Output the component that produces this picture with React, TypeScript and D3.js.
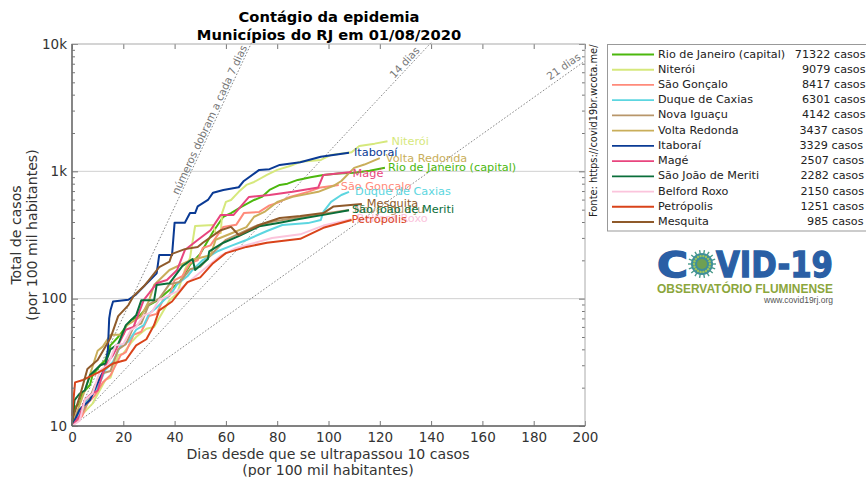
import React, { useEffect, useRef } from 'react';
import * as d3 from 'd3';

const names = ['Rio de Janeiro (capital)', 'Niterói', 'São Gonçalo', 'Duque de Caxias', 'Nova Iguaçu', 'Volta Redonda', 'Itaboraí', 'Magé', 'São João de Meriti', 'Belford Roxo', 'Petrópolis', 'Mesquita'];
const totals = [71322, 9079, 8417, 6301, 4142, 3437, 3329, 2507, 2282, 2150, 1251, 985];
const colors = ['#4cb80e', '#d6e87c', '#ff8a7a', '#5cd6e0', '#b8966a', '#c9ae5a', '#0a3a94', '#e8457e', '#0a6e3a', '#fbc4dc', '#d9431a', '#8f5a2a'];

const rioDays = [0, 1, 3, 4, 7, 8, 11, 13, 15, 18, 23, 26, 30, 33, 38, 42, 46, 50, 55, 59, 62, 66, 71, 74, 77, 81, 84, 88, 93, 98, 104, 110, 116, 122];
const rioVals = [10, 14, 15, 18, 21, 25, 30, 33, 43, 50, 68, 72, 89, 96, 117, 135, 184, 225, 335, 440, 470, 525, 596, 630, 714, 782, 800, 856, 900, 937, 960, 975, 1010, 1065];
const niteroiDays = [0, 5, 8, 13, 15, 18, 20, 23, 25, 29, 32, 38, 41, 44, 46, 48, 55, 56, 58, 58.5, 60, 62, 65, 68, 71, 76, 80, 85, 89, 97, 101, 109, 112, 118, 123];
const niteroiVals = [10.5, 13, 15, 23, 24, 36, 37, 45, 50, 58, 60, 97, 110, 168, 209, 372, 379, 328, 328, 470, 575, 596, 690, 782, 825, 937, 1026, 1100, 1190, 1230, 1346, 1410, 1580, 1650, 1720];
const goncaloDays = [0, 4, 6, 9, 12, 15, 19, 21, 24, 27, 30, 33, 35.5, 38, 40, 43, 46, 49, 51, 54, 56, 59, 64, 67, 73, 77, 80, 85, 92, 97, 104];
const goncaloVals = [10, 12, 15, 17.5, 22, 25, 36, 38, 52, 55, 73, 76, 98, 105, 140, 150, 190, 200, 250, 262, 300, 366, 380, 470, 480, 540, 565, 630, 690, 748, 782];
const duqueDays = [0, 3, 7, 10, 13, 16, 19, 22, 25, 28, 30, 33, 36, 39, 41, 45, 47, 51, 57, 62, 68, 76, 82, 92, 97, 98, 101, 105, 108];
const duqueVals = [10, 13, 17.5, 20, 27.5, 32, 43, 46, 57, 62, 76, 85, 98, 112, 130, 150, 168, 201, 237, 260, 289, 340, 379, 392, 415, 480, 575, 652, 690];
const iguacuDays = [0, 3, 6, 9, 12, 15, 18, 21, 24, 27, 30, 34, 38, 42, 46, 50, 55, 60, 66, 72, 79, 90, 100, 108];
const iguacuVals = [10, 12, 15, 21, 26, 27, 40, 44, 60, 64, 90, 100, 130, 135, 170, 178, 230, 290, 330, 375, 405, 440, 470, 497];
const voltaDays = [0, 5, 10, 12, 15, 20, 21, 27, 30, 32, 38, 46, 54, 56, 62, 68, 71, 75, 80, 86, 96, 102, 105, 110, 114, 120];
const voltaVals = [10, 19, 39, 42, 52, 52, 61, 73, 96, 128, 168, 200, 219, 290, 325, 365, 440, 480, 575, 630, 690, 770, 840, 1065, 1130, 1270];
const itaboraiDays = [0, 3, 7, 11, 13, 14, 14.5, 15, 16, 22, 25, 33, 34, 39, 40, 44, 46, 48, 49, 53, 55, 59, 65, 67, 73, 77, 81, 89, 97, 108];
const itaboraiVals = [10, 13.5, 16, 24, 29, 40, 70, 81, 95, 98, 108, 158, 220, 220, 395, 395, 470, 470, 530, 596, 680, 714, 750, 840, 1026, 1040, 1123, 1180, 1300, 1400];
const mageDays = [0, 3, 5, 7, 10, 13, 16, 21, 24, 28, 30, 33, 37, 41, 44, 49, 54, 58, 63, 69, 77, 86, 96, 98, 109];
const mageVals = [10, 12, 16, 17.5, 19, 30, 36, 57, 60, 98, 110, 132, 140, 168, 241, 289, 345, 455, 455, 630, 652, 690, 748, 937, 990];
const meritiDays = [0, 1, 3, 5, 7, 11, 13, 15, 18, 21, 25, 27, 32, 33, 38, 43, 47, 48, 53, 53.5, 59, 65, 73, 81, 88, 98, 108];
const meritiVals = [10, 16, 18, 19, 25, 30, 31, 40, 44, 62, 74, 97, 97, 128, 132, 180, 205, 168, 205, 235, 275, 310, 370, 395, 420, 455, 495];
const belfordDays = [0, 3, 5, 8, 11, 14, 17, 20, 23, 25, 28, 31, 34, 41, 49, 58, 64, 78, 89, 98, 109];
const belfordVals = [10, 11, 16, 18, 27.5, 30, 43, 44, 57, 60, 74, 78, 98, 114, 155, 218, 250, 300, 320, 375, 420];
const petropolisDays = [0, 1.2, 4.3, 8, 12, 16, 21, 25, 29, 32, 34, 39, 45, 50, 55, 60, 68, 76, 89, 98, 109];
const petropolisVals = [12, 22, 23, 25, 27.5, 31, 33, 43, 48, 62, 81, 95, 135, 147, 190, 228, 255, 275, 295, 360, 415];
const mesquitaDays = [0, 3, 6, 10, 15, 18, 22, 24, 28, 30, 34, 38, 39, 44, 49, 51, 58, 62, 65, 73, 81, 89, 98, 102, 113];
const mesquitaVals = [11, 17, 28, 33, 49, 73, 89, 105, 125, 140, 177, 195, 225, 245, 255, 275, 345, 366, 316, 379, 430, 445, 470, 530, 555];

const seriesDays = [rioDays, niteroiDays, goncaloDays, duqueDays, iguacuDays, voltaDays, itaboraiDays, mageDays, meritiDays, belfordDays, petropolisDays, mesquitaDays];
const seriesVals = [rioVals, niteroiVals, goncaloVals, duqueVals, iguacuVals, voltaVals, itaboraiVals, mageVals, meritiVals, belfordVals, petropolisVals, mesquitaVals];

const doublingDays = [7, 14, 21];
const xTicks = [0, 20, 40, 60, 80, 100, 120, 140, 160, 180, 200];
const yTicks = [10, 100, 1000, 10000];
const yTickLabels = ['10', '100', '1k', '10k'];

const FONT = '"DejaVu Sans", sans-serif';
const margin = { top: 44, left: 72, right: 585, bottom: 426 };

const App: React.FC = () => {
  const svgRef = useRef<SVGSVGElement | null>(null);

  useEffect(() => {
    const svg = d3.select(svgRef.current);
    svg.selectAll('*').remove();

    const xScale = d3.scaleLinear().domain([0, 200]).range([margin.left, margin.right]);
    const yScale = d3.scaleLog().domain([10, 10000]).range([margin.bottom, margin.top]);
    const plotH = margin.bottom - margin.top;
    const plotW = margin.right - margin.left;

    // grid
    svg.append('g').selectAll('line').data([100, 1000]).enter().append('line')
      .attr('x1', margin.left).attr('x2', margin.right)
      .attr('y1', (d) => yScale(d)).attr('y2', (d) => yScale(d))
      .attr('stroke', '#d0d0d0').attr('stroke-width', 1);

    // guides, one per doubling time
    const guide = (n: number) => {
      const end = Math.min(200, n * Math.log2(1000));
      return d3.line<number>().x((d) => xScale(d)).y((d) => yScale(10 * Math.pow(2, d / n)))(d3.range(0, end + 0.5, 1).concat([end]));
    };
    svg.append('g').selectAll('path').data(doublingDays).enter().append('path')
      .attr('d', (d) => guide(d))
      .attr('fill', 'none').attr('stroke', '#777').attr('stroke-width', 0.9).attr('stroke-dasharray', '1.6,1.8');

    const guideText = (t: string, x: number, y: number, a: number) =>
      svg.append('text').attr('transform', `translate(${x},${y}) rotate(${a})`)
        .attr('text-anchor', 'middle').attr('dominant-baseline', 'middle')
        .attr('font-family', FONT).attr('font-size', 10.5).attr('fill', '#777').text(t);
    guideText('números dobram a cada 7 dias', 210, 120, -65);
    guideText('14 dias', 405, 63, -47);
    guideText('21 dias', 564, 67, -35);

    // series
    const line = d3.line<[number, number]>().x((d) => xScale(d[0])).y((d) => yScale(d[1]));
    names.forEach((name, i) => {
      const pts = seriesDays[i].map((d, j) => [d, seriesVals[i][j]] as [number, number]);
      svg.append('path').datum(pts).attr('d', line)
        .attr('fill', 'none').attr('stroke', colors[i]).attr('stroke-width', 2)
        .attr('stroke-linejoin', 'round');
    });

    // end labels
    const labelDx = [3, 4, 2, 6, 5, 6, 5, 1, 3, 5, 0, 5];
    const labelDy = [0, 1, 2, 0, 0, 1, 0, 2, 0, 0, 0, 0];
    names.forEach((name, i) => {
      const n = seriesDays[i].length - 1;
      svg.append('text')
        .attr('x', xScale(seriesDays[i][n]) + labelDx[i])
        .attr('y', yScale(seriesVals[i][n]) + labelDy[i])
        .attr('dominant-baseline', 'middle')
        .attr('font-family', FONT).attr('font-size', 11.3)
        .attr('fill', colors[i]).text(name);
    });

    // axes
    const styleAxis = (g: d3.Selection<SVGGElement, unknown, null, undefined>) => {
      g.select('.domain').remove();
      g.selectAll('line').attr('stroke', '#777');
      g.selectAll('text').attr('font-family', FONT).attr('font-size', 13.5).attr('fill', '#333');
    };
    const minorTicks = d3.range(1, 4).flatMap((e) => d3.range(2, 10).map((m) => m * Math.pow(10, e)));

    svg.append('g').attr('transform', `translate(0,${margin.bottom})`)
      .call(d3.axisBottom(xScale).tickValues(xTicks).tickSize(-5).tickPadding(6))
      .call(styleAxis);
    svg.append('g').attr('transform', `translate(0,${margin.top})`)
      .call(d3.axisTop(xScale).tickValues(xTicks).tickSize(-5).tickFormat(() => ''))
      .call(styleAxis);
    svg.append('g').attr('transform', `translate(${margin.left},0)`)
      .call(d3.axisLeft(yScale).tickValues(yTicks).tickSize(-6).tickPadding(5)
        .tickFormat((_, i) => yTickLabels[i]))
      .call(styleAxis);
    svg.append('g').attr('transform', `translate(${margin.left},0)`)
      .call(d3.axisLeft(yScale).tickValues(minorTicks).tickSize(-3).tickFormat(() => ''))
      .call(styleAxis);
    svg.append('g').attr('transform', `translate(${margin.right},0)`)
      .call(d3.axisRight(yScale).tickValues(yTicks).tickSize(-6).tickFormat(() => ''))
      .call(styleAxis);
    svg.append('g').attr('transform', `translate(${margin.right},0)`)
      .call(d3.axisRight(yScale).tickValues(minorTicks).tickSize(-3).tickFormat(() => ''))
      .call(styleAxis);

    // spines
    svg.append('rect').attr('x', margin.left).attr('y', margin.top).attr('width', plotW).attr('height', plotH)
      .attr('fill', 'none').attr('stroke', '#aaa').attr('stroke-width', 1);
    svg.append('line').attr('x1', margin.left).attr('x2', margin.left).attr('y1', margin.top).attr('y2', margin.bottom)
      .attr('stroke', '#666').attr('stroke-width', 1.4);
    svg.append('line').attr('x1', margin.left).attr('x2', margin.right).attr('y1', margin.bottom).attr('y2', margin.bottom)
      .attr('stroke', '#666').attr('stroke-width', 1.4);

    // titles
    const text = (t: string, x: number, y: number, size: number, weight = 'normal', fill = '#333') =>
      svg.append('text').attr('x', x).attr('y', y).attr('text-anchor', 'middle')
        .attr('font-family', FONT).attr('font-size', size).attr('font-weight', weight).attr('fill', fill).text(t);
    text('Contágio da epidemia', 329, 22, 14.7, 'bold', '#000');
    text('Municípios do RJ em 01/08/2020', 329, 40, 14.7, 'bold', '#000');
    text('Dias desde que se ultrapassou 10 casos', 328, 459, 14.1);
    text('(por 100 mil habitantes)', 328, 475, 14.1);
    svg.append('text').attr('transform', 'translate(21,235) rotate(-90)').attr('text-anchor', 'middle')
      .attr('font-family', FONT).attr('font-size', 14.1).attr('fill', '#333').text('Total de casos');
    svg.append('text').attr('transform', 'translate(37,235) rotate(-90)').attr('text-anchor', 'middle')
      .attr('font-family', FONT).attr('font-size', 14.1).attr('fill', '#333').text('(por 100 mil habitantes)');
    svg.append('text').attr('transform', 'translate(594,217) rotate(-90)')
      .attr('font-family', FONT).attr('font-size', 9.9).attr('fill', '#222').attr('dominant-baseline', 'middle')
      .text('Fonte: https://covid19br.wcota.me/');

    // legend
    const legend = svg.append('g');
    legend.append('rect').attr('x', 607.5).attr('y', 44.5).attr('width', 262).attr('height', 186.5)
      .attr('fill', '#fff').attr('stroke', '#999').attr('stroke-width', 1);
    const rowY = d3.scaleLinear().domain([0, 11]).range([54.5, 222]);
    const rowEnd = [865.5, 865.5, 865.5, 865.5, 865.5, 863, 863, 864, 864, 864, 864, 863.5];
    names.forEach((name, i) => {
      const y = rowY(i);
      legend.append('line').attr('x1', 612).attr('x2', 654).attr('y1', y).attr('y2', y)
        .attr('stroke', colors[i]).attr('stroke-width', 1.8);
      legend.append('text').attr('x', 658).attr('y', y).attr('dominant-baseline', 'middle')
        .attr('font-family', FONT).attr('font-size', 11.2).attr('fill', '#222').text(name);
      legend.append('text').attr('x', rowEnd[i]).attr('y', y).attr('text-anchor', 'end').attr('dominant-baseline', 'middle')
        .attr('font-family', FONT).attr('font-size', 11.2).attr('fill', '#222').text(`${totals[i]} casos`);
    });

    // logo
    const logo = svg.append('g');
    const blue = '#2a5fa5';
    logo.append('text').attr('x', 657).attr('y', 277).attr('font-family', FONT).attr('font-weight', 'bold')
      .attr('font-size', 36).attr('fill', blue).attr('stroke', blue).attr('stroke-width', 1.4)
      .attr('textLength', 31).attr('lengthAdjust', 'spacingAndGlyphs').text('C');
    logo.append('text').attr('x', 716).attr('y', 277).attr('font-family', FONT).attr('font-weight', 'bold')
      .attr('font-size', 36).attr('fill', blue).attr('stroke', blue).attr('stroke-width', 1.4)
      .attr('textLength', 117).attr('lengthAdjust', 'spacingAndGlyphs').text('VID-19');
    const virus = logo.append('g').attr('transform', 'translate(702,264)');
    const spikes = d3.range(0, 360, 20);
    virus.selectAll('line').data(spikes).enter().append('line')
      .attr('x2', (d) => 14 * Math.cos((d * Math.PI) / 180))
      .attr('y2', (d) => 14 * Math.sin((d * Math.PI) / 180))
      .attr('stroke', '#4a9a8a').attr('stroke-width', 1.4);
    virus.append('circle').attr('r', 11).attr('fill', '#3f8f9a');
    virus.selectAll('circle.dot').data(spikes).enter().append('circle').attr('class', 'dot')
      .attr('cx', (d) => 8 * Math.cos((d * Math.PI) / 180))
      .attr('cy', (d) => 8 * Math.sin((d * Math.PI) / 180))
      .attr('r', 1.2).attr('fill', '#9cc45a');
    virus.append('circle').attr('r', 5).attr('fill', '#6fa052');
    logo.append('text').attr('x', 657).attr('y', 292.5).attr('font-family', '"Liberation Sans", sans-serif').attr('font-weight', 'bold')
      .attr('font-size', 13).attr('fill', '#8ba63c').attr('textLength', 176).attr('lengthAdjust', 'spacingAndGlyphs')
      .text('OBSERVATÓRIO FLUMINENSE');
    logo.append('text').attr('x', 833).attr('y', 303).attr('text-anchor', 'end').attr('font-family', '"Liberation Sans", sans-serif')
      .attr('font-size', 8.5).attr('fill', '#555').text('www.covid19rj.org');
  }, []);

  return <svg ref={svgRef} width={866} height={477} style={{ position: 'absolute', left: 0, top: 0, background: '#fff' }}></svg>;
};

export default App;
